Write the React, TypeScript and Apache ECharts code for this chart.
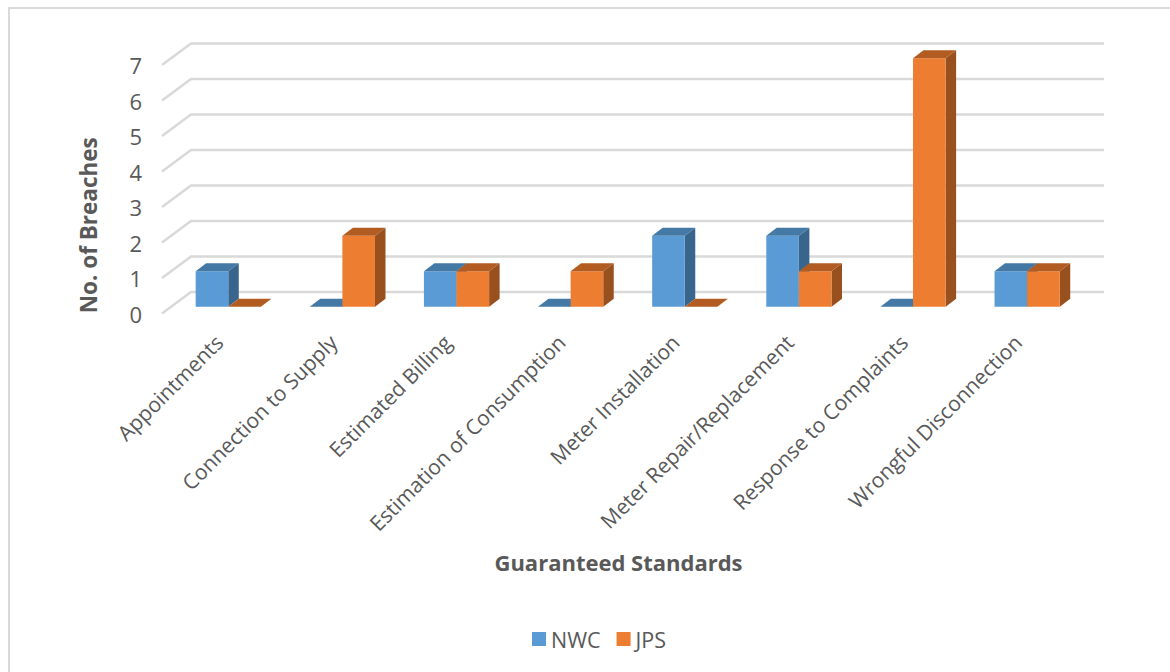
import React, { useEffect, useRef } from "react";
import * as echarts from "echarts";

const categories = [
  "Appointments",
  "Connection to Supply",
  "Estimated Billing",
  "Estimation of Consumption",
  "Meter Installation",
  "Meter Repair/Replacement",
  "Response to Complaints",
  "Wrongful Disconnection",
];
const nwcValues = [1, 0, 1, 0, 2, 2, 0, 1];
const jpsValues = [0, 2, 1, 1, 0, 1, 7, 1];
const yTicks = [0, 1, 2, 3, 4, 5, 6, 7];

const TEXT = "#595959";
const FONT = "'Open Sans', 'Noto Sans', sans-serif";

// Faux-3D geometry: the axes describe the front plane of the floor.
const WALL_DX = 29;
const WALL_DY = 21.5;
const BAR_SHIFT_X = 9.2;
const BAR_SHIFT_Y = 6.8;
const BAR_WIDTH = 32.6;
const DEPTH_X = 10.5;
const DEPTH_Y = 8;

function wallLine(params: any, api: any) {
  const y = api.coord([0, api.value(1)])[1];
  const left = params.coordSys.x;
  const right = left + params.coordSys.width;
  return {
    type: "polyline",
    shape: {
      points: [
        [left, y],
        [left + WALL_DX, y - WALL_DY],
        [right + WALL_DX, y - WALL_DY],
      ],
    },
    style: { fill: "none", stroke: "#D9D9D9", lineWidth: 2.5 },
    silent: true,
  };
}

function barRenderer(side: "left" | "right", front: string, top: string, shade: string) {
  return (_params: any, api: any) => {
    const p = api.coord([api.value(0), api.value(1)]);
    const base = api.coord([api.value(0), 0]);
    const center = p[0] + BAR_SHIFT_X;
    const x0 = side === "left" ? center - BAR_WIDTH : center;
    const x1 = x0 + BAR_WIDTH;
    const yTop = p[1] - BAR_SHIFT_Y;
    const yBase = base[1] - BAR_SHIFT_Y;
    const children: any[] = [];
    if (yBase - yTop > 0.5) {
      children.push({
        type: "polygon",
        shape: {
          points: [
            [x1, yTop],
            [x1 + DEPTH_X, yTop - DEPTH_Y],
            [x1 + DEPTH_X, yBase - DEPTH_Y],
            [x1, yBase],
          ],
        },
        style: { fill: shade },
      });
      children.push({
        type: "rect",
        shape: { x: x0, y: yTop, width: BAR_WIDTH, height: yBase - yTop },
        style: { fill: front },
      });
    }
    children.push({
      type: "polygon",
      shape: {
        points: [
          [x0, yTop],
          [x0 + DEPTH_X, yTop - DEPTH_Y],
          [x1 + DEPTH_X, yTop - DEPTH_Y],
          [x1, yTop],
        ],
      },
      style: { fill: top },
    });
    return { type: "group", children };
  };
}

export default function App() {
  const ref = useRef<HTMLDivElement>(null);

  useEffect(() => {
    document.body.style.margin = "0";
    const chart = echarts.init(ref.current!, undefined, { renderer: "svg" });
    chart.setOption({
      animation: false,
      backgroundColor: "#FFFFFF",
      textStyle: { fontFamily: FONT },
      graphic: [
        {
          type: "polyline",
          shape: { points: [[9, 672], [9, 8], [1170, 8]] },
          style: { fill: "none", stroke: "#D9D9D9", lineWidth: 2 },
          silent: true,
          z: -1,
        },
      ],
      grid: { left: 162, top: 65, width: 913, height: 248.5, containLabel: false },
      legend: {
        data: ["NWC", "JPS"],
        left: 527,
        top: 623,
        icon: "rect",
        itemWidth: 14,
        itemHeight: 14,
        itemGap: 16,
        textStyle: { color: TEXT, fontSize: 21.5, fontFamily: FONT },
      },
      xAxis: {
        type: "category",
        data: categories,
        name: "Guaranteed Standards",
        nameLocation: "middle",
        nameGap: 237.5,
        nameTextStyle: { color: TEXT, fontSize: 22, fontWeight: "bold", fontFamily: FONT },
        axisLine: { show: false },
        axisTick: { show: false },
        axisLabel: {
          interval: 0,
          rotate: 45,
          margin: 25,
          color: TEXT,
          fontSize: 21,
          fontFamily: FONT,
        },
      },
      yAxis: {
        type: "value",
        min: 0,
        max: 7,
        interval: 1,
        name: "No. of Breaches",
        nameLocation: "middle",
        nameGap: 62,
        nameTextStyle: {
          color: TEXT,
          fontSize: 22.5,
          fontWeight: "bold",
          fontFamily: FONT,
          padding: [0, 72, 0, 0],
        },
        axisLine: { show: false },
        axisTick: { show: false },
        splitLine: { show: false },
        axisLabel: { margin: 20, padding: [0, 0, 2, 0], color: TEXT, fontSize: 22, fontFamily: FONT },
      },
      series: [
        {
          type: "custom",
          name: "walls",
          data: yTicks.map((v) => [0, v]),
          encode: { x: 0, y: 1 },
          renderItem: wallLine,
          silent: true,
          z: 1,
        },
        {
          type: "custom",
          name: "NWC",
          data: nwcValues.map((v, i) => [i, v]),
          encode: { x: 0, y: 1 },
          renderItem: barRenderer("left", "#5B9BD5", "#4478A5", "#38658C"),
          itemStyle: { color: "#5B9BD5" },
          clip: false,
          z: 2,
        },
        {
          type: "custom",
          name: "JPS",
          data: jpsValues.map((v, i) => [i, v]),
          encode: { x: 0, y: 1 },
          renderItem: barRenderer("right", "#ED7D31", "#B35C22", "#97501E"),
          itemStyle: { color: "#ED7D31" },
          clip: false,
          z: 3,
        },
      ],
    });
    return () => chart.dispose();
  }, []);

  return <div ref={ref} style={{ width: 1170, height: 672 }} />;
}
